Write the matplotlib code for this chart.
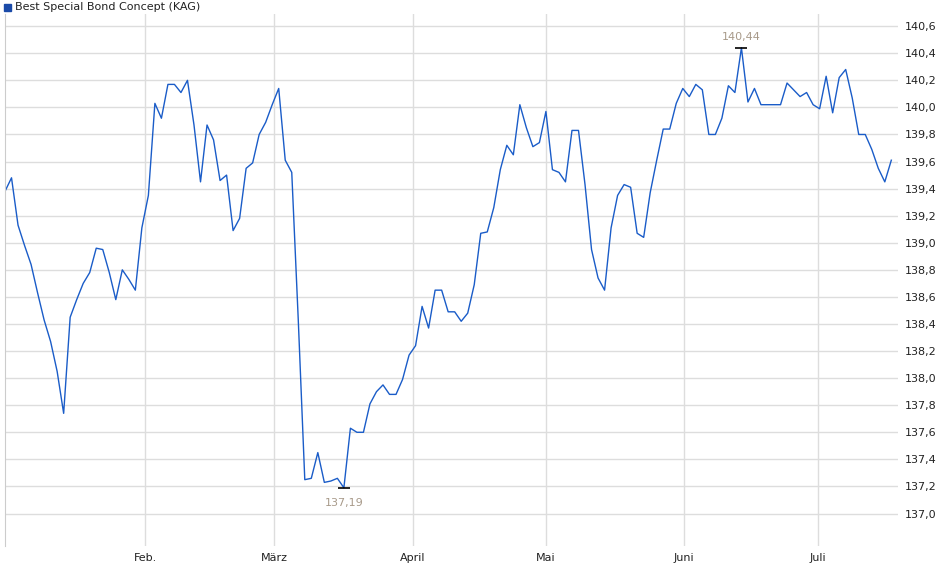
import numpy as np
import pandas as pd
import matplotlib
matplotlib.use("Agg")
import matplotlib.pyplot as plt

values = [139.38, 139.48, 139.13, 138.98, 138.84, 138.63, 138.43, 138.27, 138.05, 137.74,
          138.45, 138.58, 138.70, 138.78, 138.96, 138.95, 138.78, 138.58, 138.80, 138.73,
          138.65, 139.11, 139.35, 140.03, 139.92, 140.17, 140.17, 140.11, 140.20, 139.87,
          139.45, 139.87, 139.76, 139.46, 139.50, 139.09, 139.18, 139.55, 139.59, 139.80,
          139.89, 140.02, 140.14, 139.61, 139.52, 138.43, 137.25, 137.26, 137.45, 137.23,
          137.24, 137.26, 137.19, 137.63, 137.60, 137.60, 137.81, 137.90, 137.95, 137.88,
          137.88, 137.99, 138.17, 138.24, 138.53, 138.37, 138.65, 138.65, 138.49, 138.49,
          138.42, 138.48, 138.69, 139.07, 139.08, 139.26, 139.54, 139.72, 139.65, 140.02,
          139.85, 139.71, 139.74, 139.97, 139.54, 139.52, 139.45, 139.83, 139.83, 139.43,
          138.95, 138.74, 138.65, 139.11, 139.35, 139.43, 139.41, 139.07, 139.04, 139.37,
          139.61, 139.84, 139.84, 140.03, 140.14, 140.08, 140.17, 140.13, 139.80, 139.80,
          139.92, 140.16, 140.11, 140.44, 140.04, 140.14, 140.02, 140.02, 140.02, 140.02,
          140.18, 140.13, 140.08, 140.11, 140.02, 139.99, 140.23, 139.96, 140.22, 140.28,
          140.07, 139.80, 139.80, 139.69, 139.55, 139.45, 139.61]

start, end = pd.Timestamp("2023-12-31 12:00"), pd.Timestamp("2024-07-17 12:00")
dates = pd.date_range(start, end, periods=len(values))
month_ticks = pd.to_datetime(["2024-02-01", "2024-03-01", "2024-04-01",
                              "2024-05-01", "2024-06-01", "2024-07-01"])
month_labels = ["Feb.", "März", "April", "Mai", "Juni", "Juli"]
yticks = np.arange(137.0, 140.61, 0.2)

fig = plt.figure(figsize=(9.4, 5.79), dpi=100)
ax = fig.add_axes([5 / 940, 1 - 546 / 579, 893 / 940, 532 / 579])

ax.plot(dates, values, color="#1a5cc8", lw=1)
ax.set_xlim(start, pd.Timestamp("2024-07-19"))
ax.set_ylim(136.76, 140.69)

ax.set_xticks(month_ticks)
ax.set_xticklabels(month_labels)
ax.set_yticks(yticks)
ax.set_yticklabels([f"{t:.1f}".replace(".", ",") for t in yticks])
ax.yaxis.tick_right()
ax.tick_params(length=0, labelsize=8, colors="#222222", pad=5)
ax.grid(True, color="#dddddd", lw=1)
ax.set_axisbelow(True)
for s in ax.spines.values():
    s.set_visible(False)
ax.spines["left"].set_visible(True)
ax.spines["left"].set_color("#cccccc")

# min / max markers
imin, imax = int(np.argmin(values)), int(np.argmax(values))
for i, off in [(imin, -11), (imax, 8)]:
    ax.plot(dates[i], values[i], marker="_", color="black", ms=8, mew=1.2)
    ax.annotate(f"{values[i]:.2f}".replace(".", ","), (dates[i], values[i]),
                xytext=(0, off), textcoords="offset points", ha="center", va="center",
                fontsize=8, color="#a89a8a")

# legend
fig.patches.append(plt.Rectangle((4 / 940, 1 - 11 / 579), 7 / 940, 7 / 579,
                                 transform=fig.transFigure, color="#1a4aa8"))
fig.text(15 / 940, 1 - 7 / 579, "Best Special Bond Concept (KAG)", fontsize=8,
         va="center", color="#222222")

fig.savefig("out.png", dpi=100)
